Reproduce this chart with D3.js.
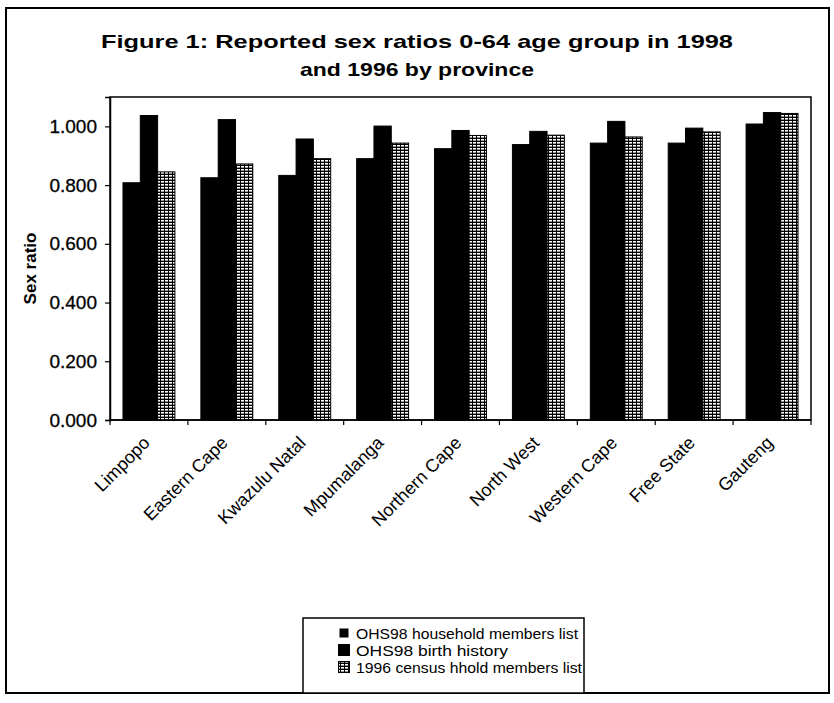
<!DOCTYPE html>
<html>
<head>
<meta charset="utf-8">
<script src="https://cdn.jsdelivr.net/npm/d3@7"></script>
<style>
  html, body { margin: 0; padding: 0; background: #fff; }
  svg { display: block; font-family: Arial, "Liberation Sans", Helvetica, sans-serif; }
</style>
</head>
<body>
<svg id="chart" width="834" height="703"></svg>
<script>
// Provinces, in plotted order
const provinces = ["Limpopo", "Eastern Cape", "Kwazulu Natal", "Mpumalanga", "Northern Cape",
                   "North West", "Western Cape", "Free State", "Gauteng"];

// Sex ratios by source
const ohs98Household = [0.808, 0.825, 0.833, 0.890, 0.924, 0.938, 0.943, 0.943, 1.008];
const ohs98Birth     = [1.037, 1.023, 0.957, 1.001, 0.986, 0.983, 1.017, 0.994, 1.047];
const census1996     = [0.845, 0.872, 0.890, 0.943, 0.969, 0.970, 0.964, 0.981, 1.044];

const seriesNames = ["OHS98 household members list", "OHS98 birth history", "1996 census hhold members list"];
const yTicks = [0, 0.2, 0.4, 0.6, 0.8, 1.0];

const series = [
  { name: seriesNames[0], values: ohs98Household, fill: "#000" },
  { name: seriesNames[1], values: ohs98Birth, fill: "#000" },
  { name: seriesNames[2], values: census1996, fill: "url(#grid)" }
];

const svg = d3.select("#chart");

// Hatch used for the census series: white cells on a black ground
const defs = svg.append("defs");
const pat = defs.append("pattern").attr("id", "grid")
  .attr("patternUnits", "userSpaceOnUse").attr("width", 4).attr("height", 3);
pat.append("rect").attr("width", 4).attr("height", 3).attr("fill", "#000");
pat.append("rect").attr("x", 1).attr("y", 1).attr("width", 3).attr("height", 1.6).attr("fill", "#fff");

// Outer frame
svg.append("rect").attr("x", 6).attr("y", 8).attr("width", 823).attr("height", 685)
  .attr("fill", "#fff").attr("stroke", "#000").attr("stroke-width", 2);

// Title
const title = svg.append("g").attr("font-weight", "bold").attr("font-size", 19).attr("text-anchor", "middle");
title.append("text").attr("x", 417).attr("y", 48)
  .attr("textLength", 632).attr("lengthAdjust", "spacingAndGlyphs")
  .text("Figure 1: Reported sex ratios 0-64 age group in 1998");
title.append("text").attr("x", 417).attr("y", 76)
  .attr("textLength", 234).attr("lengthAdjust", "spacingAndGlyphs")
  .text("and 1996 by province");

// Plot area
const plot = { left: 110, right: 811, top: 97, bottom: 420 };

const x = d3.scaleBand().domain(provinces).range([plot.left, plot.right]).padding(0);
const y = d3.scaleLinear().domain([0, 1.1]).range([plot.bottom, plot.top]);

svg.append("rect").attr("x", plot.left).attr("y", plot.top)
  .attr("width", plot.right - plot.left).attr("height", plot.bottom - plot.top)
  .attr("fill", "#fff").attr("stroke", "#000").attr("stroke-width", 1.5);

// Bars: three per province, gap width 150%
const barW = x.bandwidth() / 4.5;
series.forEach((s, si) => {
  svg.append("g").selectAll("rect").data(s.values).join("rect")
    .attr("x", (d, i) => x(provinces[i]) + barW * 0.75 + si * barW)
    .attr("y", d => y(d))
    .attr("width", barW)
    .attr("height", d => y(0) - y(d))
    .attr("fill", s.fill)
    .attr("stroke", "#000").attr("stroke-width", 1);
});

// Y axis
const yAxis = svg.append("g").attr("transform", `translate(${plot.left},0)`)
  .call(d3.axisLeft(y).tickValues(yTicks).tickFormat(d3.format(".3f")).tickSize(5).tickPadding(8));
yAxis.select(".domain").attr("stroke", "#000").attr("stroke-width", 1.5);
yAxis.selectAll("text").attr("font-size", 19).attr("fill", "#000")
  .attr("font-family", "Arial, Liberation Sans, sans-serif").attr("stroke", "#000").attr("stroke-width", 0.3);
yAxis.selectAll("line").attr("stroke", "#000").attr("stroke-width", 1.2);

svg.append("text")
  .attr("transform", `translate(36,${(plot.top + plot.bottom) / 2 + 10}) rotate(-90)`)
  .attr("text-anchor", "middle").attr("font-weight", "bold").attr("font-size", 17)
  .text("Sex ratio");

// X axis: tick marks between categories, labels at 45 degrees
const bounds = provinces.map(p => x(p)).concat([plot.right]);
svg.append("line").attr("x1", plot.left).attr("x2", plot.right)
  .attr("y1", plot.bottom).attr("y2", plot.bottom)
  .attr("stroke", "#000").attr("stroke-width", 1.5);
svg.append("g").selectAll("line").data(bounds).join("line")
  .attr("x1", d => d).attr("x2", d => d)
  .attr("y1", plot.bottom).attr("y2", plot.bottom + 5)
  .attr("stroke", "#000").attr("stroke-width", 1.2);
svg.append("g").selectAll("text").data(provinces).join("text")
  .attr("transform", d => `translate(${x(d) + x.bandwidth() / 2 + 2},${plot.bottom + 24}) rotate(-45)`)
  .attr("text-anchor", "end").attr("font-size", 18)
  .text(d => d);

// Legend
const leg = svg.append("g");
leg.append("rect").attr("x", 303).attr("y", 618).attr("width", 281).attr("height", 75)
  .attr("fill", "#fff").attr("stroke", "#000").attr("stroke-width", 1.5);
const legY = [633, 650, 667];
const legW = [222, 152, 226];
series.forEach((s, i) => {
  const size = i === 0 ? 8 : 11;
  leg.append("rect")
    .attr("x", 344 - size / 2).attr("y", legY[i] - size / 2)
    .attr("width", size).attr("height", size)
    .attr("fill", s.fill).attr("stroke", "#000").attr("stroke-width", 1);
  leg.append("text").attr("x", 356).attr("y", legY[i] + 5.5)
    .attr("font-size", 15)
    .attr("textLength", legW[i]).attr("lengthAdjust", "spacingAndGlyphs")
    .text(s.name);
});
</script>
</body>
</html>
